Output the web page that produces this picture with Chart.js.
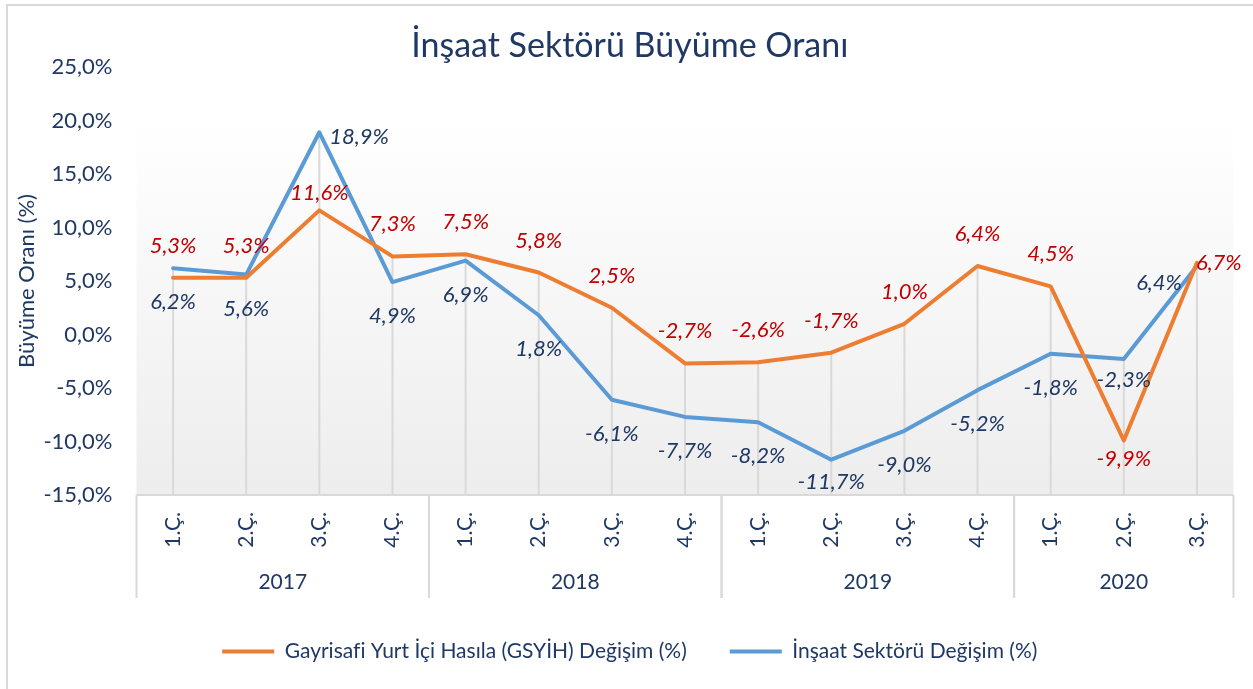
<!DOCTYPE html>
<html lang="tr">
<head>
<meta charset="utf-8">
<title>İnşaat Sektörü Büyüme Oranı</title>
<script src="https://cdn.jsdelivr.net/npm/chart.js@4"></script>
<style>
  html, body { margin: 0; padding: 0; background: #fff; }
  #wrap { width: 1253px; height: 689px; position: relative; }
</style>
</head>
<body>
<div id="wrap"><canvas id="chart"></canvas></div>
<script>
// ==== VERİLER ====
const quarters = ['1.Ç.', '2.Ç.', '3.Ç.', '4.Ç.', '1.Ç.', '2.Ç.', '3.Ç.', '4.Ç.',
                  '1.Ç.', '2.Ç.', '3.Ç.', '4.Ç.', '1.Ç.', '2.Ç.', '3.Ç.'];
const years = ['2017', '2018', '2019', '2020'];
const quartersPerYear = [4, 4, 4, 3];
const gsyihChange = [5.3, 5.3, 11.6, 7.3, 7.5, 5.8, 2.5, -2.7, -2.6, -1.7, 1.0, 6.4, 4.5, -9.9, 6.7];
const insaatChange = [6.2, 5.6, 18.9, 4.9, 6.9, 1.8, -6.1, -7.7, -8.2, -11.7, -9.0, -5.2, -1.8, -2.3, 6.4];
const yMin = -15, yMax = 25, yStep = 5;

const NAVY = '#1F3864';
const GRID = '#D9D9D9';
const FONT = 'Lato';

function fmt(v) {
    return v.toFixed(1).replace('.', ',') + '%';
}

// etiket yerleşimi (seri başına varsayılan + istisnalar)
const labelStyle = [
    { color: '#C00000', side: 'top', dist: 32 },
    { color: NAVY, side: 'bottom', dist: 34 }
];
const labelTweaks = [
    { 2: { side: 'top', dist: 17 }, 13: { side: 'bottom', dist: 18 }, 14: { side: 'right', dx: -1, dy: 0 } },
    { 2: { side: 'right', dx: 10, dy: 5 }, 9: { side: 'bottom', dist: 22 }, 13: { side: 'bottom', dist: 21 },
      14: { side: 'left', dx: 15, dy: 17 } }
];

// arka plan, düşme çizgileri, kategori kutusu
const decorPlugin = {
    id: 'decor',
    beforeDraw(chart) {
        const { ctx, chartArea: a } = chart;
        const g = ctx.createLinearGradient(0, a.top, 0, a.bottom);
        g.addColorStop(0, '#FFFFFF');
        g.addColorStop(0.12, '#FFFFFF');
        g.addColorStop(1, '#EDEDED');
        ctx.save();
        ctx.fillStyle = g;
        ctx.fillRect(a.left, a.top, a.right - a.left, a.bottom - a.top);
        ctx.restore();
    },
    beforeDatasetsDraw(chart) {
        const { ctx, chartArea: a, scales: { x, y } } = chart;
        ctx.save();
        ctx.strokeStyle = GRID;
        ctx.lineWidth = 2;
        quarters.forEach((q, i) => {
            const px = x.getPixelForValue(i);
            const top = y.getPixelForValue(Math.max(gsyihChange[i], insaatChange[i]));
            ctx.beginPath();
            ctx.moveTo(px, top);
            ctx.lineTo(px, a.bottom);
            ctx.stroke();
        });
        ctx.restore();
    },
    afterDraw(chart) {
        const { ctx, chartArea: a, scales: { x } } = chart;
        const boxBottom = a.bottom + 103;
        ctx.save();
        ctx.strokeStyle = GRID;
        ctx.lineWidth = 2;
        ctx.beginPath();
        ctx.moveTo(a.left, a.bottom);
        ctx.lineTo(a.right, a.bottom);
        ctx.stroke();

        ctx.fillStyle = NAVY;
        ctx.font = '21px ' + FONT;
        ctx.textAlign = 'center';
        ctx.textBaseline = 'middle';
        let start = 0;
        const half = (x.getPixelForValue(1) - x.getPixelForValue(0)) / 2;
        years.forEach((yr, k) => {
            const end = start + quartersPerYear[k] - 1;
            const left = x.getPixelForValue(start) - half;
            const right = x.getPixelForValue(end) + half;
            ctx.beginPath();
            ctx.moveTo(left, a.bottom);
            ctx.lineTo(left, boxBottom);
            ctx.moveTo(right, a.bottom);
            ctx.lineTo(right, boxBottom);
            ctx.stroke();
            ctx.fillText(yr, (left + right) / 2, a.bottom + 87);
            start = end + 1;
        });

        // dış çerçeve
        ctx.strokeRect(7, 5, 1400, 900);
        ctx.restore();
    }
};

// veri etiketleri
const valueLabelPlugin = {
    id: 'valueLabels',
    afterDatasetsDraw(chart) {
        const ctx = chart.ctx;
        ctx.save();
        ctx.font = 'italic 22px ' + FONT;
        ctx.textBaseline = 'middle';
        chart.data.datasets.forEach((ds, d) => {
            const meta = chart.getDatasetMeta(d);
            meta.data.forEach((pt, i) => {
                const st = Object.assign({}, labelStyle[d], labelTweaks[d][i] || {});
                let tx = pt.x, ty = pt.y;
                ctx.textAlign = 'center';
                if (st.side === 'top') ty = pt.y - st.dist;
                else if (st.side === 'bottom') ty = pt.y + st.dist;
                else if (st.side === 'right') { ctx.textAlign = 'left'; tx = pt.x + st.dx; ty = pt.y + st.dy; }
                else if (st.side === 'left') { ctx.textAlign = 'right'; tx = pt.x - st.dx; ty = pt.y + st.dy; }
                ctx.fillStyle = labelStyle[d].color;
                ctx.fillText(fmt(ds.data[i]), tx, ty);
            });
        });
        ctx.restore();
    }
};

new Chart(document.getElementById('chart'), {
    type: 'line',
    data: {
        labels: quarters,
        datasets: [{
            label: 'Gayrisafi Yurt İçi Hasıla (GSYİH) Değişim (%)',
            data: gsyihChange,
            borderColor: '#ED7D31',
            backgroundColor: '#ED7D31',
            borderWidth: 4,
            pointRadius: 0,
            tension: 0,
            borderJoinStyle: 'round',
            borderCapStyle: 'round'
        }, {
            label: 'İnşaat Sektörü Değişim (%)',
            data: insaatChange,
            borderColor: '#5B9BD5',
            backgroundColor: '#5B9BD5',
            borderWidth: 4,
            pointRadius: 0,
            tension: 0,
            borderJoinStyle: 'round',
            borderCapStyle: 'round'
        }]
    },
    options: {
        responsive: true,
        maintainAspectRatio: false,
        animation: false,
        layout: { padding: { top: 0, left: 26, right: 19.5, bottom: 17 } },
        plugins: {
            title: {
                display: true,
                text: 'İnşaat Sektörü Büyüme Oranı',
                color: NAVY,
                font: { family: FONT, size: 34, weight: 'normal' },
                padding: { top: 26, bottom: 0.2 }
            },
            legend: {
                position: 'bottom',
                labels: {
                    color: NAVY,
                    font: { family: FONT, size: 21 },
                    boxWidth: 52,
                    boxHeight: 4,
                    padding: 43,
                    generateLabels(chart) {
                        return Chart.defaults.plugins.legend.labels.generateLabels(chart).map(it => {
                            it.lineWidth = 0;
                            it.fillStyle = it.strokeStyle;
                            return it;
                        });
                    }
                }
            },
            tooltip: { enabled: false }
        },
        scales: {
            x: {
                offset: true,
                grid: { display: false, drawTicks: false },
                border: { display: false },
                ticks: {
                    color: NAVY,
                    font: { family: FONT, size: 21 },
                    minRotation: 90,
                    maxRotation: 90,
                    autoSkip: false,
                    padding: 17
                },
                afterFit(scale) { scale.height = 103; }
            },
            y: {
                min: yMin,
                max: yMax,
                grid: { display: false, drawTicks: false },
                border: { display: false },
                ticks: {
                    stepSize: yStep,
                    color: NAVY,
                    font: { family: FONT, size: 22 },
                    padding: 24,
                    callback: v => fmt(v)
                },
                title: {
                    display: true,
                    text: 'Büyüme Oranı (%)',
                    color: NAVY,
                    font: { family: FONT, size: 22 },
                    padding: { top: -12, bottom: 0 }
                },
                afterFit(scale) { scale.width = 110.5; }
            }
        }
    },
    plugins: [decorPlugin, valueLabelPlugin]
});
</script>
</body>
</html>
